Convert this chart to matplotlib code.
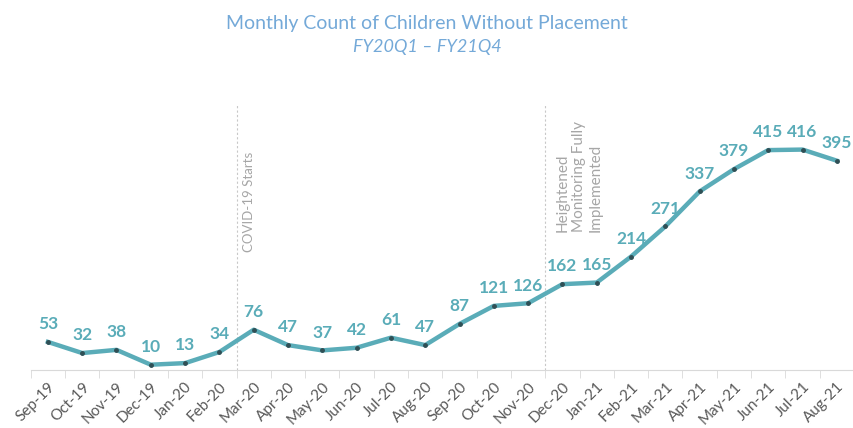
import matplotlib.pyplot as plt
import numpy as np

# Monthly count of children without placement
months = ['Sep-19', 'Oct-19', 'Nov-19', 'Dec-19', 'Jan-20', 'Feb-20',
          'Mar-20', 'Apr-20', 'May-20', 'Jun-20', 'Jul-20', 'Aug-20',
          'Sep-20', 'Oct-20', 'Nov-20', 'Dec-20', 'Jan-21', 'Feb-21',
          'Mar-21', 'Apr-21', 'May-21', 'Jun-21', 'Jul-21', 'Aug-21']
counts = [53, 32, 38, 10, 13, 34, 76, 47, 37, 42, 61, 47,
          87, 121, 126, 162, 165, 214, 271, 337, 379, 415, 416, 395]

# events drawn between months (index of the month after the line)
event_idx = [6, 15]
event_labels = ['COVID-19 Starts', 'Heightened\nMonitoring Fully\nImplemented']

LINE = '#5aacb8'
GREY = '#a6a6a6'

plt.rcParams['font.family'] = ['Lato', 'DejaVu Sans']

fig = plt.figure(figsize=(8.54, 4.28), dpi=100)
ax = fig.add_axes([0.036, 0.1355, 0.964, 0.619])

x = np.arange(len(months))
ax.plot(x, counts, color=LINE, linewidth=3.2, solid_joinstyle='round', zorder=3)
ax.plot(x, counts, linestyle='none', marker='o', markersize=2.5,
        color='#2f4f55', zorder=4)

for i, v in enumerate(counts):
    ax.annotate(str(v), (i, v), xytext=(0, 7), textcoords='offset points',
                ha='center', va='bottom', fontsize=12.5, fontweight='bold',
                color=LINE)

for idx in event_idx:
    ax.axvline(idx - 0.5, color='#c8c8c8', linestyle=(0, (2, 2)),
               linewidth=0.8, zorder=1)

ax.text(event_idx[0] - 0.5 + 0.2, 223, event_labels[0], rotation=90,
        ha='left', va='bottom', fontsize=9.5, color=GREY)
ax.text(event_idx[1] - 0.5 + 0.3, 260, event_labels[1], rotation=90,
        ha='left', va='bottom', multialignment='left', fontsize=11,
        color=GREY, linespacing=1.25)

ax.set_xlim(-0.5, len(months) - 0.5)
ax.set_ylim(0, 500)
ax.set_xticks(x)
ax.set_xticklabels(months, rotation=45, ha='right', rotation_mode='anchor',
                   fontsize=11, color='#595959')
ax.set_xticks(np.arange(-0.5, len(months)), minor=True)
ax.tick_params(axis='x', which='major', length=0, pad=7)
ax.tick_params(axis='x', which='minor', length=6, color='#d9d9d9')
ax.set_yticks([])

for side in ['top', 'right', 'left']:
    ax.spines[side].set_visible(False)
ax.spines['bottom'].set_color('#d9d9d9')

fig.text(0.5, 0.946, 'Monthly Count of Children Without Placement',
         ha='center', va='center', fontsize=14, color='#74a9d8')
fig.text(0.5, 0.89, 'FY20Q1 \u2013 FY21Q4', ha='center', va='center',
         fontsize=13, color='#74a9d8', style='italic')

fig.savefig('out.png', dpi=100)
